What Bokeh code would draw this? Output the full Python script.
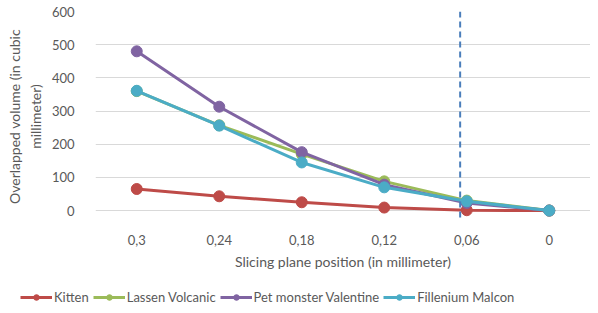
from bokeh.plotting import figure
from bokeh.layouts import column, row
from bokeh.models import Range1d, FactorRange, FixedTicker, Span, Legend, LegendItem
from bokeh.embed import file_html
from bokeh.resources import INLINE

positions = ["0,3", "0,24", "0,18", "0,12", "0,06", "0"]
kitten = [65, 43, 25, 9, 1, 0]
lassen = [360, 257, 170, 88, 30, 0]
pet_monster = [480, 313, 176, 78, 23, 0]
fillenium = [361, 256, 145, 70, 28, 0]
y_ticks = [0, 100, 200, 300, 400, 500, 600]
threshold_pos = 4.42  # synthetic categorical coordinate of dashed marker

series = [
    ("Kitten", kitten, "#BE4B48"),
    ("Lassen Volcanic", lassen, "#9BBB59"),
    ("Pet monster Valentine", pet_monster, "#8064A2"),
    ("Fillenium Malcon", fillenium, "#4BACC6"),
]

FONT = "Lato"
GRAY = "#595959"

p = figure(width=590, height=272, x_range=FactorRange(factors=positions),
           y_range=Range1d(-33, 600), output_backend="svg", toolbar_location=None,
           min_border_left=95, min_border_right=0, min_border_top=11, min_border_bottom=50)
p.outline_line_color = None
p.background_fill_color = "white"

p.xgrid.grid_line_color = None
p.ygrid.ticker = FixedTicker(ticks=y_ticks)
p.ygrid.grid_line_color = "#D9D9D9"
p.ygrid.grid_line_width = 1

p.yaxis.ticker = FixedTicker(ticks=y_ticks)
for ax in (p.xaxis, p.yaxis):
    ax.axis_line_color = None
    ax.major_tick_line_color = None
    ax.minor_tick_line_color = None
    ax.major_label_text_font = FONT
    ax.major_label_text_font_size = "13px"
    ax.major_label_text_color = GRAY
    ax.axis_label_text_font = FONT
    ax.axis_label_text_font_size = "14px"
    ax.axis_label_text_color = GRAY
    ax.axis_label_text_font_style = "normal"

p.yaxis.major_label_standoff = 15
p.yaxis.axis_label = "Overlapped volume (in cubic\nmillimeter)"
p.yaxis.axis_label_standoff = 5
p.xaxis.major_label_standoff = 7
p.xaxis.axis_label = "Slicing plane position (in millimeter)"
p.xaxis.axis_label_standoff = 5

p.add_layout(Span(location=threshold_pos, dimension="height", line_color="#4A7EBB",
                  line_width=2, line_dash="6 4"))

for name, vals, color in series:
    p.line(positions, vals, line_color=color, line_width=3)
    p.scatter(positions, vals, size=11, fill_color=color, line_color=color)

# Legend strip below the chart
leg = figure(width=590, height=33, x_range=FactorRange(factors=positions),
             y_range=Range1d(10000, 10001), output_backend="svg", toolbar_location=None,
             min_border_left=0, min_border_right=0, min_border_top=0, min_border_bottom=0,
             outline_line_color=None)
leg.axis.visible = False
leg.grid.visible = False
items = []
for name, vals, color in series:
    r1 = leg.line(positions, vals, line_color=color, line_width=3)
    r2 = leg.scatter(positions, vals, size=9, fill_color=color, line_color=color)
    items.append(LegendItem(label=name, renderers=[r1, r2]))

lg = Legend(items=items, orientation="horizontal", location=(20, 0),
            border_line_color=None, background_fill_alpha=0, padding=0, margin=0,
            spacing=4, glyph_width=32, glyph_height=14, label_height=14,
            label_standoff=2, label_text_font=FONT, label_text_font_size="13px",
            label_text_color=GRAY)
leg.add_layout(lg, "center")

layout = column(p, row(leg), spacing=0)
open("out.html", "w").write(file_html(layout, INLINE))
